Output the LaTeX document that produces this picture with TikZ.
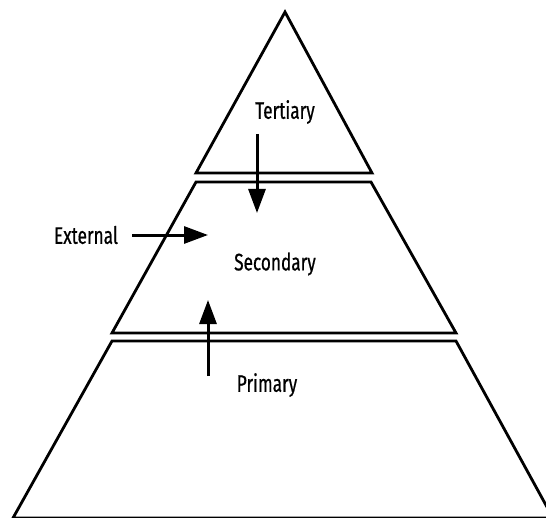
\documentclass[tikz,border=0pt]{standalone}
\usepackage{fontspec}
\setmainfont[FakeStretch=0.72,FakeBold=0.6]{Fira Sans}
\usetikzlibrary{arrows.meta}
\begin{document}
\begin{tikzpicture}[x=1bp,y=-1bp,
  tier/.style={draw=black,line width=2.8bp,line join=miter},
  lbl/.style={font=\fontsize{24}{28}\selectfont,inner sep=0pt},
  flow/.style={draw=black,line width=3bp,-{Triangle[length=24bp,width=17bp]}}]
\useasboundingbox (0,0) rectangle (546,518);
\clip (0,0) rectangle (546,518);
\draw[tier] (285,12) -- (372,173) -- (196,173) -- cycle;
\draw[tier] (196,182) -- (371,182) -- (456,333) -- (112,333) -- cycle;
\draw[tier] (112,341) -- (456,341) -- (553,518) -- (13,518) -- cycle;
\node[lbl] (tert) at (285,112) {Tertiary};
\node[lbl] (sec) at (275,264) {Secondary};
\node[lbl] (ext) at (86,235) {External};
\node[lbl] (prim) at (267,385) {Primary};
\coordinate (dA) at (257,134);
\coordinate (dB) at (257,213);
\coordinate (uA) at (208,376);
\coordinate (uB) at (208,300);
\coordinate (eA) at (132,235);
\coordinate (eB) at (208,235);
\draw[flow] (dA) -- (dB);
\draw[flow] (uA) -- (uB);
\draw[flow] (eA) -- (eB);
\end{tikzpicture}
\end{document}
